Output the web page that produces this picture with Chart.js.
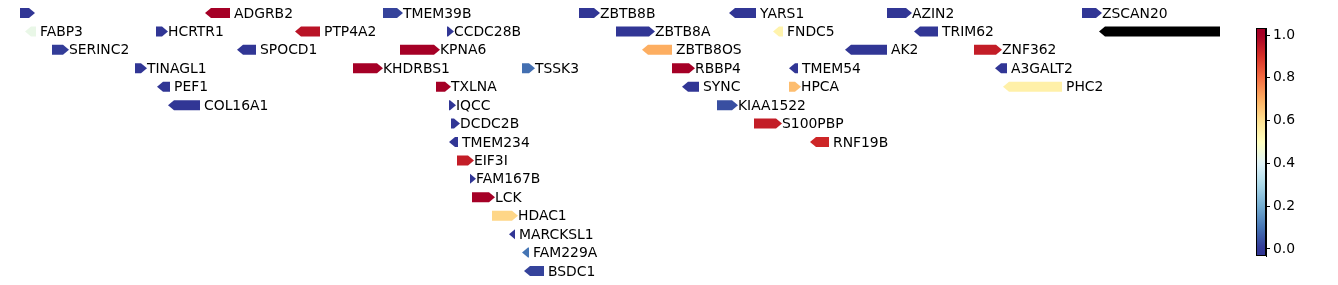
<!DOCTYPE html>
<html>
<head>
<meta charset="utf-8">
<script src="https://cdn.jsdelivr.net/npm/chart.js@4/dist/chart.umd.min.js"></script>
<style>
  html, body { margin: 0; padding: 0; background: #fff; }
  #wrap { position: relative; width: 1338px; height: 285px; }
  #trackBox { position: absolute; left: 0; top: 0; width: 1220px; height: 285px; }
  #barBox { position: absolute; left: 1230px; top: 0; width: 108px; height: 285px; }
</style>
</head>
<body>
<div id="wrap">
  <div id="trackBox"><canvas id="tracks"></canvas></div>
  <div id="barBox"><canvas id="colorbar"></canvas></div>
</div>
<script>
// gene tracks, positions are relative track coordinates
const geneNames = ['', 'ADGRB2', 'TMEM39B', 'ZBTB8B', 'YARS1', 'AZIN2', 'ZSCAN20',
    'FABP3', 'HCRTR1', 'PTP4A2', 'CCDC28B', 'ZBTB8A', 'FNDC5', 'TRIM62', '',
    'SERINC2', 'SPOCD1', 'KPNA6', 'ZBTB8OS', 'AK2', 'ZNF362',
    'TINAGL1', 'KHDRBS1', 'TSSK3', 'RBBP4', 'TMEM54', 'A3GALT2',
    'PEF1', 'TXLNA', 'SYNC', 'HPCA', 'PHC2',
    'COL16A1', 'IQCC', 'KIAA1522',
    'DCDC2B', 'S100PBP',
    'TMEM234', 'RNF19B',
    'EIF3I', 'FAM167B', 'LCK', 'HDAC1', 'MARCKSL1', 'FAM229A', 'BSDC1'];
const geneStart = [20, 205, 383, 579, 729, 887, 1082,
    25, 156, 295, 447, 616, 773, 914, 1099,
    52, 237, 400, 642, 845, 974,
    135, 353, 522, 672, 789, 995,
    157, 436, 682, 789, 1003,
    168, 449, 717,
    451, 754,
    449, 810,
    457, 470, 472, 492, 509, 522, 524];
const geneEnd = [35, 230, 403, 600, 756, 912, 1102,
    36, 168, 320, 454, 655, 783, 938, 1260,
    69, 256, 440, 672, 887, 1002,
    147, 383, 535, 695, 798, 1007,
    170, 451, 699, 801, 1062,
    200, 456, 738,
    460, 782,
    458, 829,
    474, 476, 495, 518, 515, 529, 544];
const geneStrand = [1, -1, 1, 1, -1, 1, 1,
    -1, 1, -1, 1, 1, -1, -1, -1,
    1, -1, 1, -1, -1, 1,
    1, 1, 1, 1, -1, -1,
    -1, 1, -1, 1, -1,
    -1, 1, 1,
    1, 1,
    -1, -1,
    1, 1, 1, 1, -1, -1, -1];
const geneRow = [0, 0, 0, 0, 0, 0, 0,
    1, 1, 1, 1, 1, 1, 1, 1,
    2, 2, 2, 2, 2, 2,
    3, 3, 3, 3, 3, 3,
    4, 4, 4, 4, 4,
    5, 5, 5,
    6, 6,
    7, 7,
    8, 9, 10, 11, 12, 13, 14];
// null = no value (drawn black)
const geneValue = [0, 1.0, 0.02, 0, 0, 0, 0,
    0.43, 0, 0.96, 0, 0, 0.54, 0, null,
    0.01, 0, 1.0, 0.7, 0, 0.94,
    0, 1.0, 0.09, 1.0, 0, 0,
    0, 1.0, 0, 0.67, 0.55,
    0, 0, 0.04,
    0, 0.94,
    0, 0.92,
    0.94, 0, 1.0, 0.62, 0, 0.1, 0.02];
const cbTicks = [0.0, 0.2, 0.4, 0.6, 0.8, 1.0];

// RdYlBu reversed
const cmapStops = ['#313695', '#4575b4', '#74add1', '#abd9e9', '#e0f3f8', '#ffffbf',
    '#fee090', '#fdae61', '#f46d43', '#d73027', '#a50026'];

function hexToRgb(h) {
    return [parseInt(h.slice(1, 3), 16), parseInt(h.slice(3, 5), 16), parseInt(h.slice(5, 7), 16)];
}

function cmap(v) {
    if (v === null || v === undefined || isNaN(v)) return '#000000';
    v = Math.max(0, Math.min(1, v));
    const pos = v * (cmapStops.length - 1);
    const i = Math.min(Math.floor(pos), cmapStops.length - 2);
    const t = pos - i;
    const a = hexToRgb(cmapStops[i]), b = hexToRgb(cmapStops[i + 1]);
    const c = a.map((x, k) => Math.round(x + (b[k] - x) * t));
    return `rgb(${c[0]},${c[1]},${c[2]})`;
}

const FONT = '13.9px "DejaVu Sans", sans-serif';
const ARROW_H = 10;
const TIP = 6;

const geneArrows = {
    id: 'geneArrows',
    afterDatasetsDraw(chart) {
        const { ctx, chartArea, scales } = chart;
        const xs = scales.x, ys = scales.y;
        ctx.save();
        ctx.beginPath();
        ctx.rect(chartArea.left, chartArea.top, chartArea.right - chartArea.left, chartArea.bottom - chartArea.top);
        ctx.clip();
        for (let i = 0; i < geneNames.length; i++) {
            const x0 = xs.getPixelForValue(geneStart[i]);
            const x1 = xs.getPixelForValue(geneEnd[i]);
            const yc = ys.getPixelForValue(geneRow[i]);
            const top = yc - ARROW_H / 2, bot = yc + ARROW_H / 2;
            const tip = Math.min(TIP, x1 - x0);
            ctx.beginPath();
            if (geneStrand[i] > 0) {
                ctx.moveTo(x0, top);
                ctx.lineTo(x1 - tip, top);
                ctx.lineTo(x1, yc);
                ctx.lineTo(x1 - tip, bot);
                ctx.lineTo(x0, bot);
            } else {
                ctx.moveTo(x1, top);
                ctx.lineTo(x0 + tip, top);
                ctx.lineTo(x0, yc);
                ctx.lineTo(x0 + tip, bot);
                ctx.lineTo(x1, bot);
            }
            ctx.closePath();
            ctx.fillStyle = cmap(geneValue[i]);
            ctx.fill();

            if (geneNames[i]) {
                ctx.fillStyle = '#000';
                ctx.font = FONT;
                ctx.textAlign = 'left';
                ctx.textBaseline = 'middle';
                ctx.fillText(geneNames[i], x1 + (geneStrand[i] > 0 ? 0 : 4), yc + 1);
            }
        }
        ctx.restore();
    }
};

new Chart(document.getElementById('tracks'), {
    type: 'scatter',
    data: {
        datasets: [{
            data: geneStart.map((s, i) => ({ x: s, y: geneRow[i] })),
            pointRadius: 0
        }]
    },
    options: {
        responsive: true,
        maintainAspectRatio: false,
        animation: false,
        layout: { padding: 0 },
        plugins: { legend: { display: false }, tooltip: { enabled: false } },
        scales: {
            x: { type: 'linear', display: false, min: 0, max: 1220 },
            y: { type: 'linear', display: false, reverse: true, min: -0.705, max: 14.76 }
        }
    },
    plugins: [geneArrows]
});

const gradientFill = {
    id: 'gradientFill',
    beforeDatasetsDraw(chart) {
        const { ctx, chartArea, scales } = chart;
        const ys = scales.y;
        const yTop = ys.getPixelForValue(ys.max), yBot = ys.getPixelForValue(ys.min);
        const g = ctx.createLinearGradient(0, yBot, 0, yTop);
        for (let k = 0; k <= 50; k++) {
            const v = ys.min + (ys.max - ys.min) * k / 50;
            g.addColorStop(k / 50, cmap(v));
        }
        ctx.save();
        ctx.fillStyle = g;
        ctx.fillRect(chartArea.left, yTop, chartArea.right - chartArea.left, yBot - yTop);
        ctx.strokeStyle = '#000';
        ctx.lineWidth = 1;
        ctx.strokeRect(chartArea.left + 0.5, yTop + 0.5, chartArea.right - chartArea.left - 1, yBot - yTop - 1);
        ctx.restore();
    }
};

new Chart(document.getElementById('colorbar'), {
    type: 'scatter',
    data: { datasets: [{ data: [] }] },
    options: {
        responsive: true,
        maintainAspectRatio: false,
        animation: false,
        layout: { padding: { left: 26, top: 28, bottom: 29, right: 0 } },
        plugins: { legend: { display: false }, tooltip: { enabled: false } },
        scales: {
            x: { display: false },
            y: {
                position: 'right',
                min: -0.033,
                max: 1.033,
                afterBuildTicks(scale) { scale.ticks = cbTicks.map(v => ({ value: v })); },
                afterFit(scale) { scale.width = 72; },
                ticks: {
                    color: '#000',
                    padding: 3,
                    font: { family: '"DejaVu Sans", sans-serif', size: 13.9 },
                    callback: v => Number(v).toFixed(1)
                },
                grid: { drawOnChartArea: false, drawTicks: true, tickLength: 4, color: '#000' },
                border: { display: true, color: '#000' }
            }
        }
    },
    plugins: [gradientFill]
});
</script>
</body>
</html>
